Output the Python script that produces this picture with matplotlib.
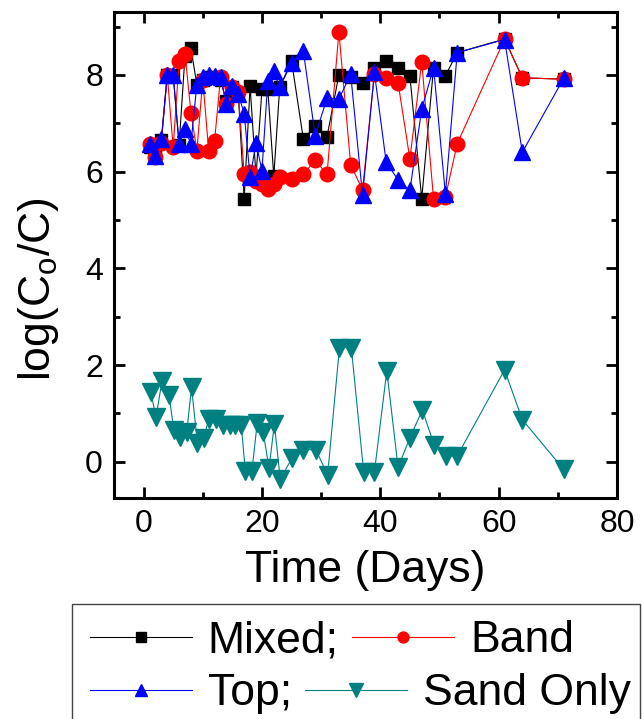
import matplotlib
matplotlib.use('Agg')
import matplotlib.pyplot as plt
from matplotlib.patches import Rectangle
from matplotlib.ticker import MultipleLocator

plt.rcParams['font.family'] = ['Liberation Sans', 'DejaVu Sans']
plt.rcParams['mathtext.fontset'] = 'custom'
plt.rcParams['mathtext.rm'] = 'Liberation Sans'

days = [1, 2, 3, 4, 5, 6, 7, 8, 9, 10, 11, 12, 13, 14, 15, 16, 17, 18, 19, 20,
        21, 22, 23, 25, 27, 29, 31, 33, 35, 37, 39, 41, 43, 45, 47, 49, 51, 53,
        61, 64, 71]
mixed = [6.5, 6.35, 6.65, 8.0, 8.0, 6.55, 8.4, 8.55, 7.8, 7.9, 7.95, 7.95, 7.9,
         7.45, 7.75, 7.6, 5.44, 7.77, 5.9, 7.7, 7.7, 5.9, 7.74, 8.29, 6.67, 6.95,
         6.72, 8.0, 7.95, 7.84, 8.15, 8.29, 8.15, 7.98, 5.44, 8.15, 7.98, 8.46,
         8.74, 7.94, 7.91]
band = [6.57, 6.3, 6.6, 8.0, 6.5, 8.28, 8.44, 7.22, 6.43, 7.9, 6.43, 6.64, 7.95,
        7.4, 7.75, 7.65, 5.95, 6.0, 5.8, 5.75, 5.64, 5.75, 5.88, 5.85, 5.94, 6.24,
        5.94, 8.89, 6.14, 5.62, 8.01, 7.93, 7.84, 6.26, 8.27, 5.44, 5.47, 6.58,
        8.74, 7.94, 7.91]
top = [6.57, 6.33, 6.67, 8.0, 8.0, 6.57, 6.88, 6.57, 7.8, 7.95, 8.0, 7.98, 7.95,
       7.4, 7.77, 7.6, 7.2, 5.88, 6.6, 6.02, 7.88, 8.08, 7.74, 8.25, 8.49, 6.74,
       7.52, 7.5, 8.01, 5.51, 8.05, 6.19, 5.83, 5.61, 7.29, 8.15, 5.54, 8.46,
       8.73, 6.4, 7.93]

sand_days = [1.2, 2.1, 3.1, 4.3, 5.1, 6.1, 7.3, 8.1, 9.1, 10.2, 11, 12.3, 13.5,
             14.6, 15.5, 16.5, 17.2, 18.3, 19.2, 20.2, 21.2, 22.1, 23.1, 25.1, 27,
             29.1, 31.1, 33.1, 35.1, 37.2, 39, 41.1, 43, 45, 47.1, 49.1, 51.1, 53,
             61, 64, 71]
sand = [1.45, 0.92, 1.66, 1.38, 0.66, 0.52, 0.62, 1.54, 0.38, 0.49, 0.88, 0.88,
        0.76, 0.76, 0.76, 0.76, -0.2, -0.2, 0.8, 0.62, -0.13, 0.78, -0.36, 0.08,
        0.25, 0.25, -0.27, 2.36, 2.36, -0.22, -0.22, 1.88, -0.11, 0.49, 1.07,
        0.35, 0.12, 0.12, 1.9, 0.87, -0.16]

fig = plt.figure(figsize=(6.42, 7.19), dpi=100)
ax = fig.add_axes([114 / 642, 1 - 498 / 719, 503 / 642, 486 / 719])

l_mixed, = ax.plot(days, mixed, '-s', color='black', lw=0.8, ms=9)
l_band, = ax.plot(days, band, '-o', color='#ff0000', lw=0.8, ms=10.5)
l_top, = ax.plot(days, top, '-^', color='#0000ff', lw=0.8, ms=11.5)
l_sand, = ax.plot(sand_days, sand, '-v', color='#008080', lw=0.8, ms=13)

ax.set_xlim(-5, 80)
ax.set_ylim(-0.75, 9.3)
ax.xaxis.set_major_locator(MultipleLocator(20))
ax.xaxis.set_minor_locator(MultipleLocator(10))
ax.yaxis.set_major_locator(MultipleLocator(2))
ax.yaxis.set_minor_locator(MultipleLocator(1))
ax.tick_params(which='both', direction='in', top=True, right=True, width=2)
ax.tick_params(which='major', length=8, labelsize=23, pad=8)
ax.tick_params(which='minor', length=4.5)
for s in ax.spines.values():
    s.set_linewidth(2.2)

ax.set_xlabel('Time (Days)', fontsize=32, labelpad=8)
ax.set_ylabel(r'log(C$_\mathregular{o}$/C)', fontsize=32)
ax.yaxis.set_label_coords(-0.105, 0.43)

# legend: two rows, each its own legend, inside one shared frame
leg_kw = dict(loc='center left', ncol=2, fontsize=32, frameon=False,
              handlelength=2.3, handletextpad=0.35, columnspacing=0.3,
              borderpad=0, borderaxespad=0, markerscale=0.75)
fig.legend([l_mixed, l_band], ['Mixed;', 'Band'],
           bbox_to_anchor=(90 / 642, 1 - 641 / 719), **leg_kw)
fig.legend([l_top, l_sand], ['Top;', 'Sand Only'],
           bbox_to_anchor=(90 / 642, 1 - 694 / 719), **leg_kw)
fig.patches.append(Rectangle((72 / 642, -0.05), 568 / 642, 0.05 + 1 - 604 / 719,
                             transform=fig.transFigure, fill=False,
                             edgecolor='#444444', lw=1))

fig.savefig('out.png', dpi=100)
